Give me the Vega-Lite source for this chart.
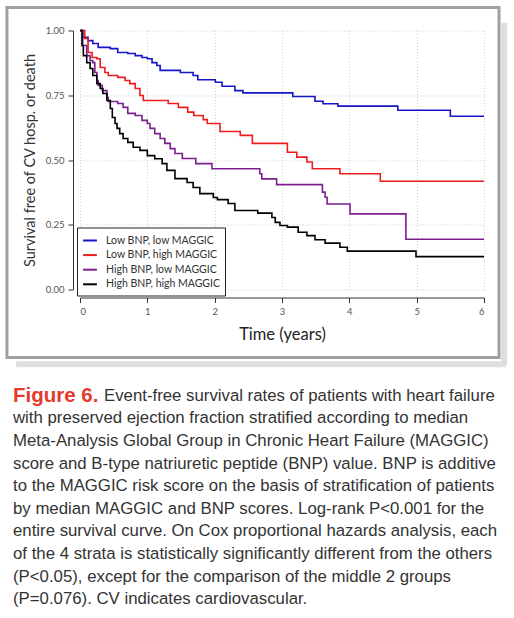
{
  "$schema": "https://vega.github.io/schema/vega-lite/v6.json",
  "background": "white",
  "padding": {"left": 5, "top": 5.5, "right": 5, "bottom": 2},
  "config": {
    "view": {"stroke": null},
    "font": "Lato",
    "axis": {"labelFont": "Lato", "titleFont": "Lato", "domainColor": "#333333", "tickColor": "#333333", "labelColor": "#555555", "gridDash": [1, 2], "gridColor": "#cfcfcf", "gridWidth": 1}
  },
  "concat": [
    {
      "width": 404,
      "height": 259,
      "layer": [
        {
          "data": {"values": [{}]},
          "mark": {"type": "rule", "color": "#dedede", "strokeWidth": 6, "clip": false},
          "encoding": {"x": {"datum": 6.3, "type": "quantitative"}, "y": {"datum": 1.03, "type": "quantitative"}, "y2": {"datum": -0.29}}
        },
        {
          "data": {"values": [{}]},
          "mark": {"type": "rule", "color": "#dedede", "strokeWidth": 6, "clip": false},
          "encoding": {"y": {"datum": -0.289, "type": "quantitative"}, "x": {"datum": -0.95, "type": "quantitative"}, "x2": {"datum": 6.325}}
        },
        {
          "data": {"values": [{}]},
          "mark": {"type": "rect", "fillOpacity": 0, "stroke": "#a0a0a0", "strokeWidth": 3, "clip": false},
          "encoding": {"x": {"datum": -1.085, "type": "quantitative"}, "x2": {"datum": 6.223}, "y": {"datum": 1.089, "type": "quantitative"}, "y2": {"datum": -0.2625}}
        },
        {
          "data": {"name": "km"},
          "mark": {"type": "line", "interpolate": "step-after", "strokeWidth": 1.6},
          "encoding": {
            "x": {"field": "t", "type": "quantitative", "scale": {"domain": [0, 6], "nice": false},
              "axis": {"values": [0, 1, 2, 3, 4, 5, 6], "format": "d", "offset": 8, "tickSize": 5, "labelPadding": 4, "labelFontSize": 9.5, "title": "Time (years)", "titleFontSize": 16.5, "titleFontWeight": "normal", "titleColor": "#222222", "titlePadding": 10, "grid": true}},
            "y": {"field": "s", "type": "quantitative", "scale": {"domain": [0, 1], "nice": false},
              "axis": {"values": [0, 0.25, 0.5, 0.75, 1], "format": ".2f", "offset": 7, "tickSize": 5, "labelPadding": 4, "labelFontSize": 9.5, "title": "Survival free of CV hosp. or death", "titleFontSize": 14.5, "titleFontWeight": "normal", "titleColor": "#333333", "titlePadding": 8, "grid": true}},
            "color": {"field": "group", "type": "nominal",
              "scale": {"domain": ["Low BNP, low MAGGIC", "Low BNP, high MAGGIC", "High BNP, low MAGGIC", "High BNP, high MAGGIC"], "range": ["#1414c8", "#ee1c1c", "#7d1f8e", "#000000"]},
              "legend": {"orient": "none", "legendX": -3, "legendY": 197, "title": null, "symbolType": "stroke", "symbolSize": 190, "symbolStrokeWidth": 2, "labelFontSize": 10.5, "labelColor": "#333333", "labelFont": "Lato", "strokeColor": "#222222", "fillColor": "white", "padding": 5, "rowPadding": 0.6, "labelOffset": 8}}
          }
        }
      ]
    },
    {
      "width": 420,
      "height": 226,
      "data": {"name": "caption"},
      "encoding": {
        "x": {"datum": 0, "type": "quantitative", "scale": {"domain": [0, 1]}, "axis": null},
        "y": {"field": "line", "type": "ordinal", "scale": {"paddingInner": 0, "paddingOuter": 0}, "axis": null},
        "text": {"field": "text"}
      },
      "layer": [
        {"transform": [{"filter": "datum.part == 'label'"}], "mark": {"type": "text", "align": "left", "baseline": "middle", "font": "Liberation Sans", "fontWeight": "bold", "fontSize": 20.5, "color": "#e5392d", "dx": -67}},
        {"transform": [{"filter": "datum.part == 'body' && datum.line == 1"}], "mark": {"type": "text", "align": "left", "baseline": "middle", "font": "Liberation Sans", "fontSize": 16.8, "color": "#333333", "dx": 24}},
        {"transform": [{"filter": "datum.part == 'body' && datum.line > 1"}], "mark": {"type": "text", "align": "left", "baseline": "middle", "font": "Liberation Sans", "fontSize": 16.8, "color": "#333333", "dx": -67}}
      ]
    }
  ],
  "columns": 1,
  "align": "none",
  "spacing": 16,
  "resolve": {"scale": {"x": "independent", "y": "independent"}},
  "datasets": {
    "caption": [
      {"line": 1, "part": "label", "text": "Figure 6."},
      {"line": 1, "part": "body", "text": "Event-free survival rates of patients with heart failure"},
      {"line": 2, "part": "body", "text": "with preserved ejection fraction stratified according to median"},
      {"line": 3, "part": "body", "text": "Meta-Analysis Global Group in Chronic Heart Failure (MAGGIC)"},
      {"line": 4, "part": "body", "text": "score and B-type natriuretic peptide (BNP) value. BNP is additive"},
      {"line": 5, "part": "body", "text": "to the MAGGIC risk score on the basis of stratification of patients"},
      {"line": 6, "part": "body", "text": "by median MAGGIC and BNP scores. Log-rank P<0.001 for the"},
      {"line": 7, "part": "body", "text": "entire survival curve. On Cox proportional hazards analysis, each"},
      {"line": 8, "part": "body", "text": "of the 4 strata is statistically significantly different from the others"},
      {"line": 9, "part": "body", "text": "(P<0.05), except for the comparison of the middle 2 groups"},
      {"line": 10, "part": "body", "text": "(P=0.076). CV indicates cardiovascular."}
    ],
    "km": [
      {"group": "Low BNP, low MAGGIC", "t": 0, "s": 1.0},
      {"group": "Low BNP, low MAGGIC", "t": 0.04, "s": 0.974},
      {"group": "Low BNP, low MAGGIC", "t": 0.12, "s": 0.961},
      {"group": "Low BNP, low MAGGIC", "t": 0.19, "s": 0.95},
      {"group": "Low BNP, low MAGGIC", "t": 0.27, "s": 0.935},
      {"group": "Low BNP, low MAGGIC", "t": 0.45, "s": 0.93},
      {"group": "Low BNP, low MAGGIC", "t": 0.56, "s": 0.915},
      {"group": "Low BNP, low MAGGIC", "t": 0.71, "s": 0.911},
      {"group": "Low BNP, low MAGGIC", "t": 0.82, "s": 0.903},
      {"group": "Low BNP, low MAGGIC", "t": 0.92, "s": 0.896},
      {"group": "Low BNP, low MAGGIC", "t": 1.0, "s": 0.891},
      {"group": "Low BNP, low MAGGIC", "t": 1.07, "s": 0.876},
      {"group": "Low BNP, low MAGGIC", "t": 1.14, "s": 0.865},
      {"group": "Low BNP, low MAGGIC", "t": 1.19, "s": 0.846},
      {"group": "Low BNP, low MAGGIC", "t": 1.49, "s": 0.838},
      {"group": "Low BNP, low MAGGIC", "t": 1.68, "s": 0.826},
      {"group": "Low BNP, low MAGGIC", "t": 1.75, "s": 0.81},
      {"group": "Low BNP, low MAGGIC", "t": 2.01, "s": 0.8},
      {"group": "Low BNP, low MAGGIC", "t": 2.11, "s": 0.785},
      {"group": "Low BNP, low MAGGIC", "t": 2.3, "s": 0.768},
      {"group": "Low BNP, low MAGGIC", "t": 2.42, "s": 0.759},
      {"group": "Low BNP, low MAGGIC", "t": 3.16, "s": 0.745},
      {"group": "Low BNP, low MAGGIC", "t": 3.49, "s": 0.727},
      {"group": "Low BNP, low MAGGIC", "t": 3.61, "s": 0.717},
      {"group": "Low BNP, low MAGGIC", "t": 3.83, "s": 0.708},
      {"group": "Low BNP, low MAGGIC", "t": 4.72, "s": 0.692},
      {"group": "Low BNP, low MAGGIC", "t": 5.5, "s": 0.669},
      {"group": "Low BNP, low MAGGIC", "t": 6.0, "s": 0.669},
      {"group": "Low BNP, high MAGGIC", "t": 0, "s": 1.0},
      {"group": "Low BNP, high MAGGIC", "t": 0.07, "s": 0.969},
      {"group": "Low BNP, high MAGGIC", "t": 0.12, "s": 0.915},
      {"group": "Low BNP, high MAGGIC", "t": 0.18, "s": 0.896},
      {"group": "Low BNP, high MAGGIC", "t": 0.25, "s": 0.891},
      {"group": "Low BNP, high MAGGIC", "t": 0.3, "s": 0.857},
      {"group": "Low BNP, high MAGGIC", "t": 0.37, "s": 0.838},
      {"group": "Low BNP, high MAGGIC", "t": 0.42, "s": 0.826},
      {"group": "Low BNP, high MAGGIC", "t": 0.56, "s": 0.819},
      {"group": "Low BNP, high MAGGIC", "t": 0.67, "s": 0.807},
      {"group": "Low BNP, high MAGGIC", "t": 0.74, "s": 0.795},
      {"group": "Low BNP, high MAGGIC", "t": 0.82, "s": 0.776},
      {"group": "Low BNP, high MAGGIC", "t": 0.89, "s": 0.749},
      {"group": "Low BNP, high MAGGIC", "t": 0.94, "s": 0.73},
      {"group": "Low BNP, high MAGGIC", "t": 1.31, "s": 0.718},
      {"group": "Low BNP, high MAGGIC", "t": 1.46, "s": 0.703},
      {"group": "Low BNP, high MAGGIC", "t": 1.6, "s": 0.685},
      {"group": "Low BNP, high MAGGIC", "t": 1.69, "s": 0.672},
      {"group": "Low BNP, high MAGGIC", "t": 1.83, "s": 0.656},
      {"group": "Low BNP, high MAGGIC", "t": 1.89, "s": 0.641},
      {"group": "Low BNP, high MAGGIC", "t": 2.08, "s": 0.61},
      {"group": "Low BNP, high MAGGIC", "t": 2.38, "s": 0.595},
      {"group": "Low BNP, high MAGGIC", "t": 2.56, "s": 0.564},
      {"group": "Low BNP, high MAGGIC", "t": 3.08, "s": 0.53},
      {"group": "Low BNP, high MAGGIC", "t": 3.22, "s": 0.511},
      {"group": "Low BNP, high MAGGIC", "t": 3.37, "s": 0.492},
      {"group": "Low BNP, high MAGGIC", "t": 3.45, "s": 0.466},
      {"group": "Low BNP, high MAGGIC", "t": 3.86, "s": 0.447},
      {"group": "Low BNP, high MAGGIC", "t": 4.46, "s": 0.418},
      {"group": "Low BNP, high MAGGIC", "t": 6.0, "s": 0.418},
      {"group": "High BNP, low MAGGIC", "t": 0, "s": 1.0},
      {"group": "High BNP, low MAGGIC", "t": 0.04, "s": 0.942},
      {"group": "High BNP, low MAGGIC", "t": 0.1, "s": 0.903},
      {"group": "High BNP, low MAGGIC", "t": 0.15, "s": 0.884},
      {"group": "High BNP, low MAGGIC", "t": 0.19, "s": 0.876},
      {"group": "High BNP, low MAGGIC", "t": 0.22, "s": 0.838},
      {"group": "High BNP, low MAGGIC", "t": 0.25, "s": 0.807},
      {"group": "High BNP, low MAGGIC", "t": 0.27, "s": 0.788},
      {"group": "High BNP, low MAGGIC", "t": 0.33, "s": 0.768},
      {"group": "High BNP, low MAGGIC", "t": 0.4, "s": 0.741},
      {"group": "High BNP, low MAGGIC", "t": 0.42, "s": 0.726},
      {"group": "High BNP, low MAGGIC", "t": 0.56, "s": 0.718},
      {"group": "High BNP, low MAGGIC", "t": 0.64, "s": 0.703},
      {"group": "High BNP, low MAGGIC", "t": 0.71, "s": 0.68},
      {"group": "High BNP, low MAGGIC", "t": 0.82, "s": 0.672},
      {"group": "High BNP, low MAGGIC", "t": 0.92, "s": 0.653},
      {"group": "High BNP, low MAGGIC", "t": 1.0, "s": 0.641},
      {"group": "High BNP, low MAGGIC", "t": 1.04, "s": 0.622},
      {"group": "High BNP, low MAGGIC", "t": 1.11, "s": 0.602},
      {"group": "High BNP, low MAGGIC", "t": 1.19, "s": 0.583},
      {"group": "High BNP, low MAGGIC", "t": 1.26, "s": 0.564},
      {"group": "High BNP, low MAGGIC", "t": 1.34, "s": 0.544},
      {"group": "High BNP, low MAGGIC", "t": 1.41, "s": 0.525},
      {"group": "High BNP, low MAGGIC", "t": 1.52, "s": 0.506},
      {"group": "High BNP, low MAGGIC", "t": 1.72, "s": 0.486},
      {"group": "High BNP, low MAGGIC", "t": 1.96, "s": 0.466},
      {"group": "High BNP, low MAGGIC", "t": 2.67, "s": 0.447},
      {"group": "High BNP, low MAGGIC", "t": 2.7, "s": 0.427},
      {"group": "High BNP, low MAGGIC", "t": 2.92, "s": 0.405},
      {"group": "High BNP, low MAGGIC", "t": 3.6, "s": 0.376},
      {"group": "High BNP, low MAGGIC", "t": 3.64, "s": 0.356},
      {"group": "High BNP, low MAGGIC", "t": 3.67, "s": 0.33},
      {"group": "High BNP, low MAGGIC", "t": 4.01, "s": 0.292},
      {"group": "High BNP, low MAGGIC", "t": 4.84, "s": 0.194},
      {"group": "High BNP, low MAGGIC", "t": 6.0, "s": 0.194},
      {"group": "High BNP, high MAGGIC", "t": 0, "s": 1.0},
      {"group": "High BNP, high MAGGIC", "t": 0.03, "s": 0.942},
      {"group": "High BNP, high MAGGIC", "t": 0.05, "s": 0.903},
      {"group": "High BNP, high MAGGIC", "t": 0.1, "s": 0.876},
      {"group": "High BNP, high MAGGIC", "t": 0.15, "s": 0.853},
      {"group": "High BNP, high MAGGIC", "t": 0.19, "s": 0.826},
      {"group": "High BNP, high MAGGIC", "t": 0.25, "s": 0.795},
      {"group": "High BNP, high MAGGIC", "t": 0.3, "s": 0.776},
      {"group": "High BNP, high MAGGIC", "t": 0.34, "s": 0.757},
      {"group": "High BNP, high MAGGIC", "t": 0.4, "s": 0.73},
      {"group": "High BNP, high MAGGIC", "t": 0.45, "s": 0.699},
      {"group": "High BNP, high MAGGIC", "t": 0.48, "s": 0.664},
      {"group": "High BNP, high MAGGIC", "t": 0.52, "s": 0.641},
      {"group": "High BNP, high MAGGIC", "t": 0.55, "s": 0.622},
      {"group": "High BNP, high MAGGIC", "t": 0.59, "s": 0.602},
      {"group": "High BNP, high MAGGIC", "t": 0.64, "s": 0.583},
      {"group": "High BNP, high MAGGIC", "t": 0.71, "s": 0.568},
      {"group": "High BNP, high MAGGIC", "t": 0.79, "s": 0.549},
      {"group": "High BNP, high MAGGIC", "t": 0.89, "s": 0.537},
      {"group": "High BNP, high MAGGIC", "t": 1.0, "s": 0.517},
      {"group": "High BNP, high MAGGIC", "t": 1.11, "s": 0.505},
      {"group": "High BNP, high MAGGIC", "t": 1.22, "s": 0.486},
      {"group": "High BNP, high MAGGIC", "t": 1.29, "s": 0.46},
      {"group": "High BNP, high MAGGIC", "t": 1.41, "s": 0.428},
      {"group": "High BNP, high MAGGIC", "t": 1.59, "s": 0.413},
      {"group": "High BNP, high MAGGIC", "t": 1.68, "s": 0.394},
      {"group": "High BNP, high MAGGIC", "t": 1.78, "s": 0.37},
      {"group": "High BNP, high MAGGIC", "t": 1.98, "s": 0.355},
      {"group": "High BNP, high MAGGIC", "t": 2.04, "s": 0.347},
      {"group": "High BNP, high MAGGIC", "t": 2.2, "s": 0.332},
      {"group": "High BNP, high MAGGIC", "t": 2.3, "s": 0.305},
      {"group": "High BNP, high MAGGIC", "t": 2.64, "s": 0.295},
      {"group": "High BNP, high MAGGIC", "t": 2.85, "s": 0.278},
      {"group": "High BNP, high MAGGIC", "t": 2.9, "s": 0.259},
      {"group": "High BNP, high MAGGIC", "t": 2.97, "s": 0.247},
      {"group": "High BNP, high MAGGIC", "t": 3.08, "s": 0.241},
      {"group": "High BNP, high MAGGIC", "t": 3.24, "s": 0.221},
      {"group": "High BNP, high MAGGIC", "t": 3.37, "s": 0.208},
      {"group": "High BNP, high MAGGIC", "t": 3.49, "s": 0.192},
      {"group": "High BNP, high MAGGIC", "t": 3.64, "s": 0.179},
      {"group": "High BNP, high MAGGIC", "t": 3.86, "s": 0.163},
      {"group": "High BNP, high MAGGIC", "t": 3.97, "s": 0.148},
      {"group": "High BNP, high MAGGIC", "t": 4.99, "s": 0.127},
      {"group": "High BNP, high MAGGIC", "t": 6.0, "s": 0.127}
    ]
  }
}
